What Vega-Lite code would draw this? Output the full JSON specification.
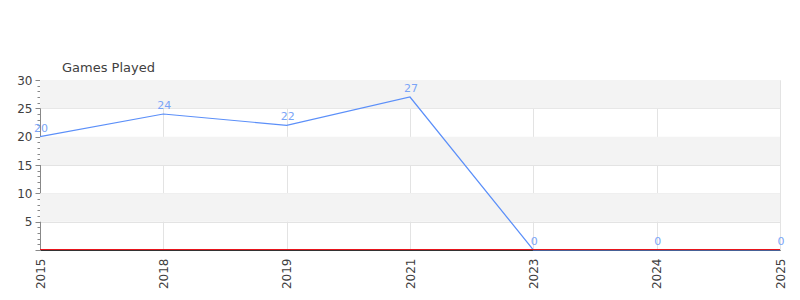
{
  "$schema": "https://vega.github.io/schema/vega-lite/v6.json",
  "width": 740,
  "height": 170,
  "autosize": "none",
  "padding": {"left": 40, "top": 80, "right": 20, "bottom": 50},
  "background": "white",
  "title": {"text": "Games Played", "anchor": "start", "frame": "group", "dx": 22, "offset": -1, "fontSize": 13, "fontWeight": "normal", "color": "#404040", "font": "DejaVu Sans"},
  "config": {"view": {"stroke": null}, "font": "DejaVu Sans"},
  "datasets": {
    "games": [
      {"year": "2015", "games": 20},
      {"year": "2018", "games": 24},
      {"year": "2019", "games": 22},
      {"year": "2021", "games": 27},
      {"year": "2023", "games": 0},
      {"year": "2024", "games": 0},
      {"year": "2025", "games": 0}
    ],
    "bands": [
      {"lo": 5, "hi": 10},
      {"lo": 15, "hi": 20},
      {"lo": 25, "hi": 30}
    ]
  },
  "resolve": {"axis": {"y": "independent"}},
  "layer": [
    {
      "data": {"name": "bands"},
      "mark": {"type": "rect", "color": "#f3f3f3"},
      "encoding": {
        "y": {"field": "lo", "type": "quantitative", "scale": {"domain": [0, 30], "nice": false},
          "axis": {"orient": "left", "values": [0, 5, 10, 15, 20, 25, 30], "title": null, "grid": true, "gridColor": "#e3e3e3",
            "labelExpr": "datum.value == 0 ? '' : datum.label", "tickSize": 5, "tickColor": "#888888", "domainColor": "#888888",
            "labelColor": "#404040", "labelFontSize": 12, "labelPadding": 3}},
        "y2": {"field": "hi"}
      }
    },
    {
      "data": {"name": "games"},
      "mark": {"type": "line", "color": "#5b8ff9", "strokeWidth": 1.2},
      "encoding": {
        "x": {"field": "year", "type": "ordinal", "sort": null, "scale": {"type": "point", "padding": 0},
          "axis": {"title": null, "labelAngle": -90, "grid": true, "gridColor": "#e3e3e3", "ticks": false, "zindex": 0,
            "domainColor": "#333333", "domainWidth": 1, "labelColor": "#404040", "labelFontSize": 12, "labelPadding": 8}},
        "y": {"field": "games", "type": "quantitative", "axis": null}
      }
    },
    {
      "data": {"name": "games"},
      "mark": {"type": "text", "color": "#7aa5f7", "fontSize": 11, "dy": -3, "dx": 1, "baseline": "bottom", "align": "center"},
      "encoding": {
        "x": {"field": "year", "type": "ordinal", "sort": null},
        "y": {"field": "games", "type": "quantitative", "axis": null},
        "text": {"field": "games", "type": "quantitative"}
      }
    },
    {
      "data": {"values": [{}]},
      "mark": {"type": "rule", "color": "#e8141c", "strokeWidth": 1, "yOffset": -0.5},
      "encoding": {
        "y": {"datum": 0, "type": "quantitative",
          "axis": {"orient": "left", "values": [1,2,3,4,6,7,8,9,11,12,13,14,16,17,18,19,21,22,23,24,26,27,28,29],
            "labels": false, "title": null, "grid": false, "domain": false, "tickSize": 3, "tickColor": "#888888"}}
      }
    }
  ]
}
